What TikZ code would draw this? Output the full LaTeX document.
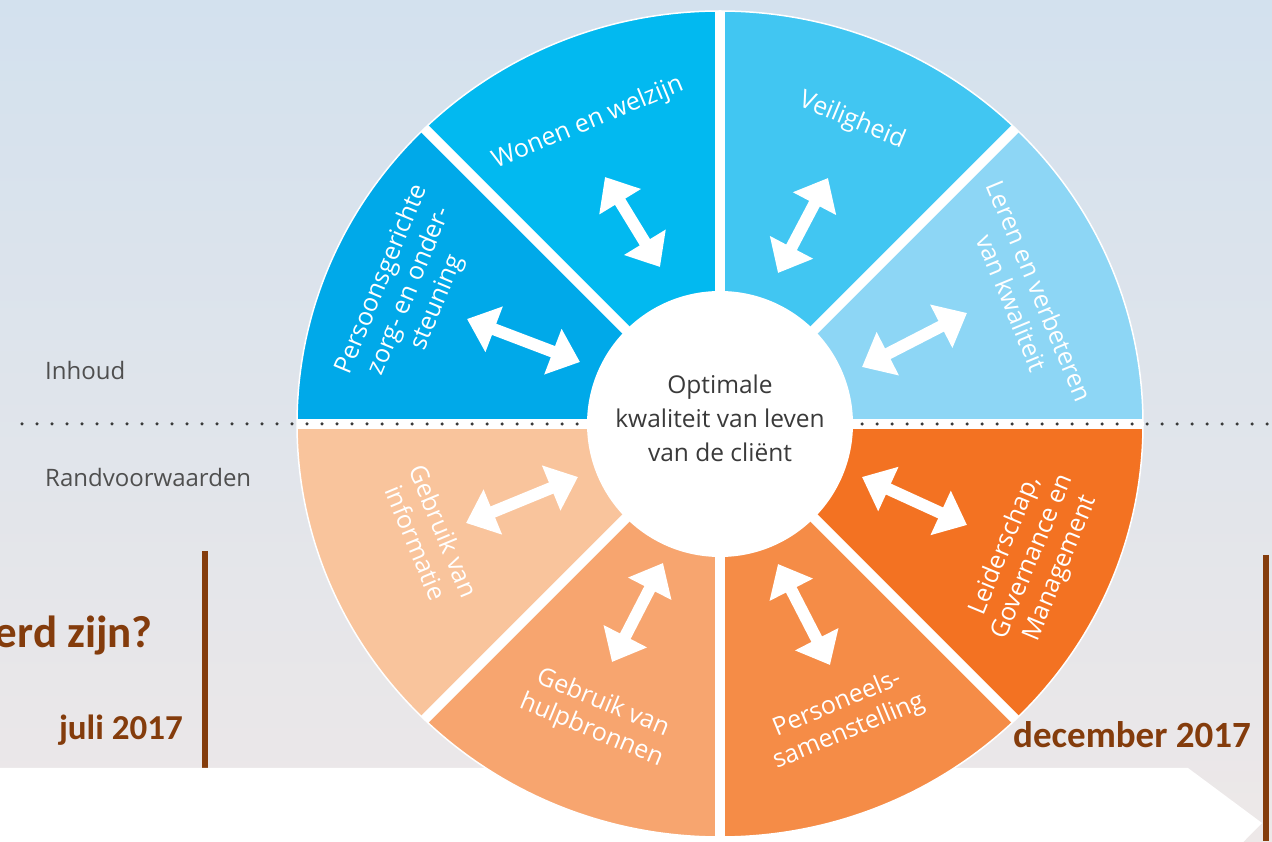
\documentclass[tikz,border=0pt]{standalone}
\usepackage{fontspec}
\setmainfont{Open Sans}
\newfontfamily\calfont{Carlito}
\usetikzlibrary{arrows.meta}
\definecolor{bgtop}{HTML}{D3E1EE}
\definecolor{bgmid}{HTML}{E5E7EC}
\definecolor{bgbot}{HTML}{EDE8E8}
\definecolor{brownc}{HTML}{843C0C}
\definecolor{cLeren}{HTML}{8DD6F5}
\definecolor{cVeil}{HTML}{41C6F2}
\definecolor{cWonen}{HTML}{02B9F0}
\definecolor{cPers}{HTML}{00A9E9}
\definecolor{cInfo}{HTML}{F9C49C}
\definecolor{cHulp}{HTML}{F7A56F}
\definecolor{cPersoneel}{HTML}{F58C47}
\definecolor{cLeid}{HTML}{F37222}
\definecolor{graytxt}{HTML}{4F4F4F}
\definecolor{centretxt}{HTML}{3A3A3A}
\definecolor{dotc}{HTML}{3A3A3A}
\tikzset{
  dblarrow/.style={draw=white, line width=12pt,
    {Triangle[length=29pt,width=47pt]}-{Triangle[length=29pt,width=47pt]}},
  seglabel/.style={text=white, font=\fontsize{25}{30}\selectfont, align=center, inner sep=0pt},
  sidelabel/.style={text=graytxt, font=\fontsize{24}{28}\selectfont, inner sep=0pt},
  boldlabel/.style={text=brownc, inner sep=0pt},
  brownline/.style={draw=brownc, line width=5.5pt}
}
\begin{document}
\begin{tikzpicture}[x=1pt,y=1pt]
\useasboundingbox (0,0) rectangle (1272,841);
\clip (0,0) rectangle (1272,841);
% background
\shade[top color=bgtop, middle color=bgmid, bottom color=bgbot] (0,0) rectangle (1272,841);
% brown vertical lines
\coordinate (l1a) at (205,290);
\coordinate (l1b) at (205,73);
\draw[brownline] (l1a) -- (l1b);
% white arrow band
\fill[white] (0,73) -- (1188,73) -- (1262,18) -- (1195,-50) -- (0,-50) -- cycle;
\coordinate (l2a) at (1266,286);
\coordinate (l2b) at (1266,0);
\draw[brownline] (l2a) -- (l2b);
% texts left / bottom
\node[sidelabel, anchor=base west] (inh) at (45,461) {Inhoud};
\node[sidelabel, anchor=base west] (rand) at (45,354) {Randvoorwaarden};
\node[boldlabel, anchor=base east, font=\calfont\bfseries\fontsize{45}{48}\selectfont] (q) at (153,193) {erd zijn?};
\node[boldlabel, anchor=base east, font=\calfont\bfseries\fontsize{35}{40}\selectfont] (juli) at (183,101) {juli 2017};
\node[boldlabel, anchor=base west, font=\calfont\bfseries\fontsize{37}{40}\selectfont] (dec) at (1013,93) {december 2017};
% wheel
\coordinate (C) at (720,417);
\foreach \a/\c in {0/cLeren,45/cVeil,90/cWonen,135/cPers,180/cInfo,225/cHulp,270/cPersoneel,315/cLeid}{
  \fill[\c] (C) -- ++(\a:423 and 413) arc[start angle=\a, delta angle=45, x radius=423, y radius=413] -- cycle;
}
\begin{scope}
\clip (C) ellipse [x radius=423, y radius=413];
\foreach \a/\b in {0/180,45/225,90/270,135/315}{
  \draw[white, line width=10pt] (C) ++(\a:460) -- ++(\b:920);
}
\end{scope}
\draw[white, line width=1.5pt] (C) ellipse [x radius=423, y radius=413];
% dotted line
\coordinate (d1) at (22,417);
\coordinate (d2) at (1272,417);
\draw[dotc, line width=3.5pt, line cap=round, dash pattern=on 0pt off 15pt] (d1) -- (d2);
% centre
\node[circle, fill=white, minimum size=266pt, inner sep=0pt] (centre) at (C) {};
\node[text=centretxt, font=\fontsize{24.5}{34}\selectfont, align=center, inner sep=0pt] (centretext) at (720,423) {Optimale\\kwaliteit van leven\\van de cliënt};
% arrows
\coordinate (a1) at (605,664); \coordinate (a2) at (660,574);
\coordinate (b1) at (828,663); \coordinate (b2) at (778,568);
\coordinate (c1) at (467,522); \coordinate (c2) at (580,479);
\coordinate (e1) at (862,474); \coordinate (e2) at (967,528);
\coordinate (f1) at (466,318); \coordinate (f2) at (578,364);
\coordinate (g1) at (862,364); \coordinate (g2) at (967,316);
\coordinate (h1) at (663,278); \coordinate (h2) at (612,179);
\coordinate (k1) at (778,277); \coordinate (k2) at (830,176);
\draw[dblarrow] (a1) -- (a2);
\draw[dblarrow] (b1) -- (b2);
\draw[dblarrow] (c1) -- (c2);
\draw[dblarrow] (e1) -- (e2);
\draw[dblarrow] (f1) -- (f2);
\draw[dblarrow] (g1) -- (g2);
\draw[dblarrow] (h1) -- (h2);
\draw[dblarrow] (k1) -- (k2);
% segment labels
\node[seglabel, rotate=22.5] (tWonen) at (588,718) {Wonen en welzijn};
\node[seglabel, rotate=-22.5] (tVeil) at (852,720) {Veiligheid};
\node[seglabel, rotate=67.5] (tPers) at (410,550) {Persoonsgerichte\\zorg- en onder-\\steuning};
\node[seglabel, rotate=-67.5] (tLeren) at (1026,544) {Leren en verbeteren\\van kwaliteit};
\node[seglabel, rotate=-67.5] (tInfo) at (430,304) {Gebruik van\\informatie};
\node[seglabel, rotate=67.5] (tLeid) at (1033,284) {Leiderschap,\\Governance en\\Management};
\node[seglabel, rotate=-22.5] (tHulp) at (597,124) {Gebruik van\\hulpbronnen};
\node[seglabel, rotate=22.5] (tPersoneel) at (843,123) {Personeels-\\samenstelling};
\end{tikzpicture}
\end{document}
